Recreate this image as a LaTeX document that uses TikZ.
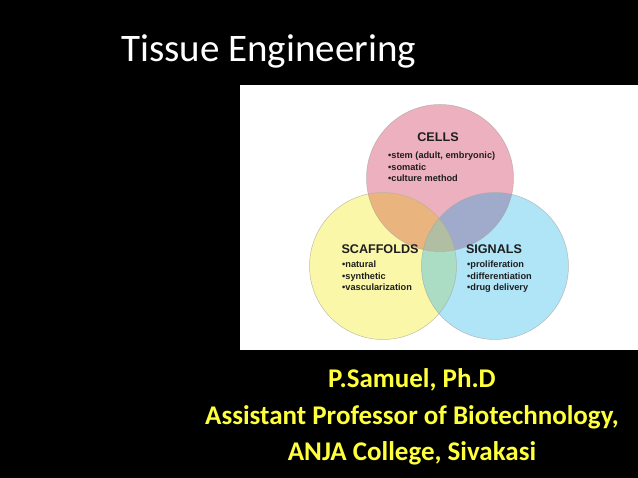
\documentclass[tikz,border=0pt]{standalone}
\usepackage{fontspec}
\setmainfont{Liberation Sans}
\newfontfamily\slidefont{Carlito}
\usepackage{xcolor}
\usetikzlibrary{positioning}
\definecolor{cellpink}{HTML}{EDB0BE}
\definecolor{scafyellow}{HTML}{FBF7A8}
\definecolor{signalblue}{HTML}{B0E4F7}
\definecolor{pinkyellow}{HTML}{EAB47E}
\definecolor{pinkblue}{HTML}{A0AACB}
\definecolor{yellowblue}{HTML}{AADDC3}
\definecolor{allthree}{HTML}{B2BEA2}
\definecolor{ringline}{HTML}{A8A49A}
\definecolor{inktext}{HTML}{1E1E1E}
\definecolor{byline}{HTML}{FFFF3C}
\tikzset{
  ring/.style     = {circle, minimum size=147pt, inner sep=0pt},
  rim/.style      = {draw=ringline, line width=0.5pt, draw opacity=0.7},
  heading/.style  = {font=\bfseries\fontsize{12.6}{14}\selectfont, color=inktext,
                     inner sep=0pt},
  bullets/.style  = {font=\bfseries\fontsize{9.2}{11.8}\selectfont, color=inktext,
                     align=left, inner sep=0pt, anchor=north west},
  slidetitle/.style = {font=\slidefont\fontsize{39}{44}\selectfont, color=white,
                     inner sep=0pt},
  author/.style   = {font=\slidefont\bfseries\fontsize{27}{36.5}\selectfont,
                     color=byline, align=center, inner sep=0pt},
}
\begin{document}
\begin{tikzpicture}[x=1pt, y=-1pt]
    \useasboundingbox[fill=black] (0,0) rectangle (638,478);

    % ---------------- title
    \node[slidetitle, anchor=base west] (title) at (121,62) {Tissue Engineering};

    % ---------------- picture panel
    \fill[white] (240,85) rectangle (638,350);

    \node[ring, fill=cellpink]   (cells)  at (440,178) {};
    \node[ring, fill=scafyellow] (scaf)   at (383,266) {};
    \node[ring, fill=signalblue] (signal) at (495,266) {};

    % overlaps
    \begin{scope}
      \clip (cells.center) circle (73.5);
      \fill[pinkyellow] (scaf.center) circle (73.5);
      \fill[pinkblue] (signal.center) circle (73.5);
    \end{scope}
    \begin{scope}
      \clip (scaf.center) circle (73.5);
      \fill[yellowblue] (signal.center) circle (73.5);
      \clip (cells.center) circle (73.5);
      \fill[allthree] (signal.center) circle (73.5);
    \end{scope}
    \foreach \c in {cells, scaf, signal} {\draw[rim] (\c.center) circle (73.5);}

    \node[heading] (cellhd) at (438,137) {CELLS};
    \node[bullets] (celllist) at (388,151.5)
      {•stem (adult, embryonic)\\•somatic\\•culture method};

    \node[heading] (scafhd) at (380,249) {SCAFFOLDS};
    \node[bullets] (scaflist) at (342,260.5)
      {•natural\\•synthetic\\•vascularization};

    \node[heading] (sighd) at (494,249) {SIGNALS};
    \node[bullets] (siglist) at (467,260.5)
      {•proliferation\\•differentiation\\•drug delivery};

    % ---------------- byline
    \node[author] (byl) at (412,417)
      {P.Samuel, Ph.D\\Assistant Professor of Biotechnology,\\ANJA College, Sivakasi};
  \end{tikzpicture}
\end{document}
